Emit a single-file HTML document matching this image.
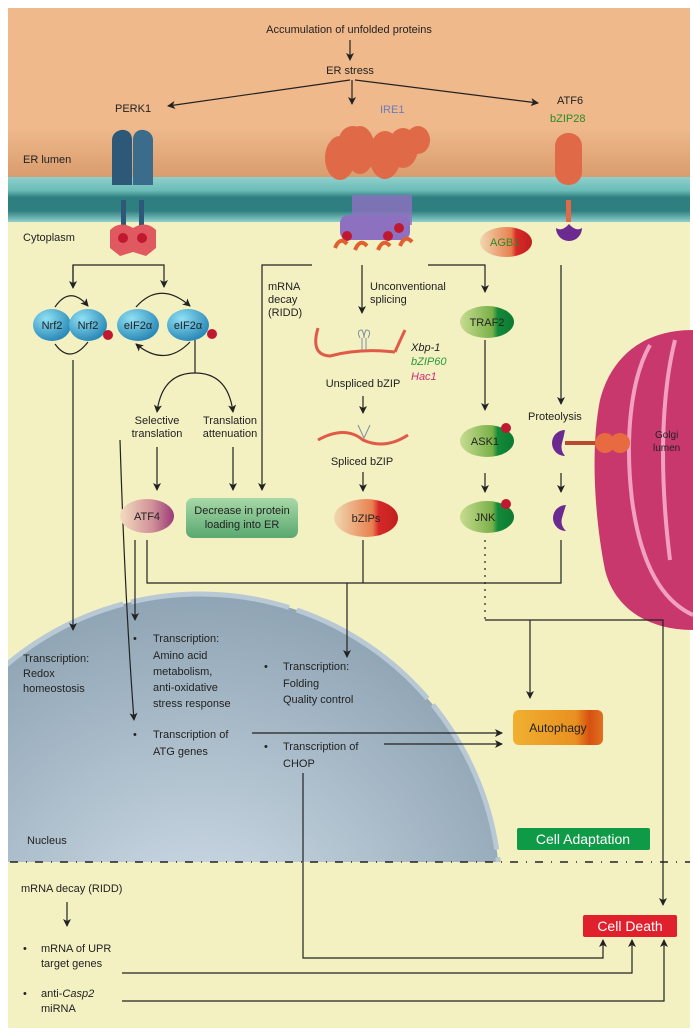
<!DOCTYPE html>
<html><head><meta charset="utf-8"><style>
html,body{margin:0;padding:0;background:#fff;width:693px;height:1033px;overflow:hidden}
svg{display:block}
text{font-family:"Liberation Sans",sans-serif;font-size:11px;fill:#222}
</style></head><body>
<svg width="693" height="1033" viewBox="0 0 693 1033" xmlns="http://www.w3.org/2000/svg">
<defs>
<linearGradient id="orng" x1="0" y1="0" x2="0" y2="1">
<stop offset="0" stop-color="#f0b98c"/><stop offset="0.7" stop-color="#efb98b"/><stop offset="1" stop-color="#d79a6c"/></linearGradient>
<linearGradient id="memb" x1="0" y1="0" x2="0" y2="1">
<stop offset="0" stop-color="#8fd0cc"/><stop offset="0.3" stop-color="#6bbcb8"/><stop offset="0.45" stop-color="#2f7f80"/><stop offset="0.75" stop-color="#2f7f80"/><stop offset="1" stop-color="#8fd0cc"/></linearGradient>
<radialGradient id="nuc" cx="0.5" cy="0.6" r="0.6">
<stop offset="0" stop-color="#d5e2ec"/><stop offset="1" stop-color="#8fa4b4"/></radialGradient>
<radialGradient id="blue" cx="0.35" cy="0.3" r="0.8">
<stop offset="0" stop-color="#8fe0f4"/><stop offset="1" stop-color="#1f7fb0"/></radialGradient>
<linearGradient id="grn" x1="0" y1="0" x2="1" y2="0">
<stop offset="0" stop-color="#c8dc90"/><stop offset="0.6" stop-color="#7ab048"/><stop offset="0.7" stop-color="#138a3a"/><stop offset="1" stop-color="#0d7a30"/></linearGradient>
<linearGradient id="bz" x1="0" y1="0" x2="1" y2="0">
<stop offset="0" stop-color="#f0d8b0"/><stop offset="0.6" stop-color="#e88050"/><stop offset="0.7" stop-color="#d82828"/><stop offset="1" stop-color="#c02020"/></linearGradient>
<linearGradient id="atf4" x1="0" y1="0" x2="1" y2="0">
<stop offset="0" stop-color="#f4dcc0"/><stop offset="0.6" stop-color="#d09098"/><stop offset="1" stop-color="#9a3a78"/></linearGradient>
<linearGradient id="auto" x1="0" y1="0" x2="1" y2="0">
<stop offset="0" stop-color="#f0b030"/><stop offset="0.7" stop-color="#e89020"/><stop offset="0.85" stop-color="#d85010"/><stop offset="1" stop-color="#e07020"/></linearGradient>
<linearGradient id="dec" x1="0" y1="0" x2="0" y2="1">
<stop offset="0" stop-color="#a8d8a8"/><stop offset="1" stop-color="#5aa870"/></linearGradient>
<marker id="a" markerWidth="8" markerHeight="8" refX="7" refY="4" orient="auto" markerUnits="userSpaceOnUse">
<path d="M0,0 L8,4 L0,8 L2,4z" fill="#222"/></marker>
</defs>
<rect width="693" height="1033" fill="#fff"/>
<rect x="8" y="8" width="682" height="1020" fill="#f3f0c2"/>
<rect x="8" y="8" width="682" height="172" fill="url(#orng)"/>
<rect x="8" y="177" width="682" height="45" fill="url(#memb)"/>
<!-- golgi -->
<path d="M693,330 C640,330 610,360 600,400 C590,450 595,520 605,570 C615,610 650,630 693,630 Z" fill="#c8386c"/>
<path d="M650,345 C630,380 625,440 632,500 C640,560 660,600 693,615" stroke="#f2a0c0" stroke-width="4" fill="none"/>
<path d="M675,340 C660,400 660,480 670,560" stroke="#f2a0c0" stroke-width="4" fill="none"/>
<!-- nucleus -->
<clipPath id="nc"><rect x="8" y="560" width="682" height="302"/></clipPath>
<g clip-path="url(#nc)">
<circle cx="200" cy="894" r="300" fill="url(#nuc)"/>
<circle cx="200" cy="894" r="300" fill="none" stroke="#b8c8d4" stroke-width="5" stroke-dasharray="160 8"/>
</g>
<!-- PERK -->
<path d="M112,185 L112,140 C112,128 132,125 132,140 L132,185Z" fill="#2e5878"/>
<path d="M133,185 L133,140 C133,125 153,128 153,140 L153,185Z" fill="#3c6c8c"/>
<rect x="121" y="200" width="5" height="28" fill="#2e5878"/><rect x="139" y="200" width="5" height="28" fill="#2e5878"/>
<path d="M110,230 Q120,220 133,228 Q146,220 156,230 L156,248 L146,256 L133,252 L120,256 L110,248Z" fill="#e05860"/>
<circle cx="123" cy="238" r="5" fill="#c01830"/><circle cx="142" cy="238" r="5" fill="#c01830"/>
<!-- IRE1 -->
<g fill="#e06a48">
<ellipse cx="340" cy="158" rx="15" ry="22"/><ellipse cx="360" cy="150" rx="15" ry="24"/><ellipse cx="353" cy="140" rx="14" ry="14"/>
<ellipse cx="385" cy="155" rx="16" ry="24"/><ellipse cx="403" cy="148" rx="15" ry="20"/><ellipse cx="418" cy="140" rx="12" ry="14"/></g>
<rect x="352" y="195" width="60" height="30" fill="#8e70c0" opacity="0.8"/>
<rect x="340" y="215" width="70" height="25" rx="8" fill="#8e70c0"/>
<circle cx="347" cy="236" r="5" fill="#c01830"/><circle cx="388" cy="236" r="5" fill="#c01830"/><circle cx="399" cy="228" r="5" fill="#c01830"/>
<path d="M335,248 q5,-12 12,-4 M355,250 q5,-12 12,-4 M378,250 q5,-12 12,-4 M400,246 q5,-12 12,-4" stroke="#e06030" stroke-width="4" fill="none"/>
<!-- ATF6 -->
<rect x="555" y="133" width="27" height="52" rx="13" fill="#e06a48"/>
<rect x="566" y="200" width="5" height="22" fill="#e06a48"/>
<path d="M556,228 a13,13 0 0 0 26,0 q-6,4 -13,-4 q-7,8 -13,4z" fill="#6a2a90"/>
<ellipse cx="506" cy="242" rx="26" ry="15" fill="url(#bz)"/>
<text x="490" y="246" style="fill:#2a8a2a">AGB1</text>
<!-- top text -->
<text x="349" y="33" text-anchor="middle">Accumulation of unfolded proteins</text>
<text x="350" y="74" text-anchor="middle">ER stress</text>
<g stroke="#222" stroke-width="1.2" fill="none">
<line x1="350" y1="40" x2="350" y2="60" marker-end="url(#a)"/>
<line x1="350" y1="80" x2="168" y2="106" marker-end="url(#a)"/>
<line x1="352" y1="80" x2="352" y2="104" marker-end="url(#a)"/>
<line x1="355" y1="80" x2="538" y2="103" marker-end="url(#a)"/>
</g>
<text x="115" y="112">PERK1</text>
<text x="380" y="113" style="fill:#6a7cc0">IRE1</text>
<text x="557" y="104">ATF6</text>
<text x="550" y="122" style="fill:#2a8a2a">bZIP28</text>
<text x="23" y="163">ER lumen</text>
<text x="23" y="241">Cytoplasm</text>
<!-- connectors -->
<g stroke="#222" stroke-width="1.2" fill="none">
<polyline points="73,287 73,265 164,265 164,287" marker-end="url(#a)"/>
<line x1="73" y1="265" x2="73" y2="288" marker-end="url(#a)"/>
<path d="M55,307 Q70,285 88,306" marker-end="url(#a)"/>
<path d="M88,342 Q70,365 55,344"/>
<path d="M136,307 Q160,280 190,306" marker-end="url(#a)"/>
<path d="M190,342 Q165,368 136,344" marker-end="url(#a)"/>
<line x1="73" y1="360" x2="73" y2="630" marker-end="url(#a)"/>
<polyline points="195,340 195,373"/>
<path d="M195,373 Q162,373 157,412" marker-end="url(#a)"/>
<path d="M195,373 Q228,373 233,412" marker-end="url(#a)"/>
<line x1="157" y1="447" x2="157" y2="490" marker-end="url(#a)"/>
<line x1="233" y1="447" x2="233" y2="490" marker-end="url(#a)"/>
<path d="M120,440 Q125,600 134,720" marker-end="url(#a)"/>
<polyline points="312,265 262,265 262,490" marker-end="url(#a)"/>
<line x1="362" y1="265" x2="362" y2="313" marker-end="url(#a)"/>
<polyline points="428,265 485,265 485,292" marker-end="url(#a)"/>
<line x1="485" y1="340" x2="485" y2="410" marker-end="url(#a)"/>
<line x1="485" y1="473" x2="485" y2="492" marker-end="url(#a)"/>
<line x1="561" y1="265" x2="561" y2="404" marker-end="url(#a)"/>
<line x1="561" y1="473" x2="561" y2="492" marker-end="url(#a)"/>
<line x1="363" y1="396" x2="363" y2="413" marker-end="url(#a)"/>
<line x1="363" y1="472" x2="363" y2="491" marker-end="url(#a)"/>
<line x1="135" y1="540" x2="135" y2="620" marker-end="url(#a)"/>
<polyline points="147,540 147,583 561,583 561,540"/>
<line x1="363" y1="540" x2="363" y2="583"/>
<line x1="347" y1="583" x2="347" y2="657" marker-end="url(#a)"/>
<line x1="485" y1="540" x2="485" y2="620" stroke-dasharray="2 5"/>
<polyline points="485,620 663,620 663,905" marker-end="url(#a)"/>
<line x1="530" y1="620" x2="530" y2="698" marker-end="url(#a)"/>
<line x1="252" y1="733" x2="502" y2="733" marker-end="url(#a)"/>
<line x1="384" y1="744" x2="502" y2="744" marker-end="url(#a)"/>
<polyline points="303,773 303,958 603,958 603,940" marker-end="url(#a)"/>
<polyline points="122,973 632,973 632,940" marker-end="url(#a)"/>
<polyline points="122,1001 664,1001 664,940" marker-end="url(#a)"/>
<line x1="67" y1="902" x2="67" y2="926" marker-end="url(#a)"/>
</g>
<line x1="10" y1="862" x2="690" y2="862" stroke="#222" stroke-width="1.5" stroke-dasharray="8 8 1 8"/>
<!-- Nrf2/eIF2 -->
<ellipse cx="52" cy="325" rx="19" ry="16" fill="url(#blue)"/>
<ellipse cx="88" cy="325" rx="19" ry="16" fill="url(#blue)"/>
<ellipse cx="138" cy="325" rx="21" ry="16" fill="url(#blue)"/>
<ellipse cx="188" cy="325" rx="21" ry="16" fill="url(#blue)"/>
<circle cx="108" cy="335" r="5" fill="#c01830"/><circle cx="212" cy="334" r="5" fill="#c01830"/>
<text x="52" y="329" text-anchor="middle">Nrf2</text>
<text x="88" y="329" text-anchor="middle">Nrf2</text>
<text x="138" y="329" text-anchor="middle">eIF2α</text>
<text x="188" y="329" text-anchor="middle">eIF2α</text>
<text x="268" y="290">mRNA</text><text x="268" y="303">decay</text><text x="268" y="316">(RIDD)</text>
<text x="370" y="290">Unconventional</text><text x="370" y="303">splicing</text>
<!-- TRAF2 etc -->
<ellipse cx="487" cy="322" rx="27" ry="16" fill="url(#grn)"/><text x="487" y="326" text-anchor="middle">TRAF2</text>
<ellipse cx="487" cy="441" rx="27" ry="16" fill="url(#grn)"/><text x="485" y="445" text-anchor="middle">ASK1</text>
<ellipse cx="487" cy="517" rx="27" ry="16" fill="url(#grn)"/><text x="485" y="521" text-anchor="middle">JNK</text>
<circle cx="506" cy="428" r="5" fill="#c01830"/><circle cx="506" cy="504" r="5" fill="#c01830"/>
<text x="528" y="420">Proteolysis</text>
<path d="M565,430 a13,13 0 1 0 0,26 q-5,-6 -3,-13 q2,-7 3,-13z" fill="#6a2a90"/>
<line x1="565" y1="443" x2="600" y2="443" stroke="#b84a30" stroke-width="4"/>
<circle cx="605" cy="443" r="10" fill="#e86a40"/><circle cx="620" cy="443" r="10" fill="#e86a40"/>
<text x="655" y="438" style="font-size:10px">Golgi</text><text x="653" y="451" style="font-size:10px">lumen</text>
<path d="M566,505 a13,13 0 1 0 0,26 q-6,-6 -4,-13 q2,-7 4,-13z" fill="#6a2a90"/>
<!-- bZIP mRNA -->
<path d="M318,328 Q310,355 330,356 Q360,348 395,352" stroke="#e05a48" stroke-width="3" fill="none"/>
<path d="M362,350 L362,338 M366,350 L366,338 M360,338 q-4,-8 2,-8 q2,4 2,8 q0,-4 2,-8 q6,0 2,8" stroke="#8090a0" stroke-width="1" fill="none"/>
<path d="M405,330 Q398,345 395,352" stroke="#e05a48" stroke-width="3" fill="none"/>
<text x="411" y="351" style="font-style:italic">Xbp-1</text>
<text x="411" y="365" style="font-style:italic;fill:#2a9a3a">bZIP60</text>
<text x="411" y="380" style="font-style:italic;fill:#d0287a">Hac1</text>
<text x="363" y="387" text-anchor="middle">Unspliced bZIP</text>
<path d="M318,440 Q345,425 363,440 Q385,450 408,435" stroke="#e05a48" stroke-width="3" fill="none"/>
<path d="M358,425 L364,438 L370,425" stroke="#8090a0" fill="none"/>
<text x="362" y="465" text-anchor="middle">Spliced bZIP</text>
<ellipse cx="366" cy="518" rx="32" ry="19" fill="url(#bz)"/><text x="366" y="522" text-anchor="middle">bZIPs</text>
<text x="157" y="424" text-anchor="middle">Selective</text><text x="157" y="437" text-anchor="middle">translation</text>
<text x="230" y="424" text-anchor="middle">Translation</text><text x="230" y="437" text-anchor="middle">attenuation</text>
<ellipse cx="147" cy="516" rx="27" ry="17" fill="url(#atf4)"/><text x="147" y="520" text-anchor="middle">ATF4</text>
<rect x="186" y="498" width="112" height="40" rx="7" fill="url(#dec)"/>
<text x="242" y="514" text-anchor="middle">Decrease in protein</text><text x="242" y="528" text-anchor="middle">loading into ER</text>
<!-- nucleus text -->
<g style="font-size:12px">
<text x="23" y="662">Transcription:</text><text x="23" y="677">Redox</text><text x="23" y="692">homeostosis</text>
<text x="133" y="642">•</text><text x="153" y="642">Transcription:</text><text x="153" y="659">Amino acid</text><text x="153" y="675">metabolism,</text><text x="153" y="691">anti-oxidative</text><text x="153" y="707">stress response</text>
<text x="264" y="670">•</text><text x="283" y="670">Transcription:</text><text x="283" y="687">Folding</text><text x="283" y="703">Quality control</text>
<text x="133" y="738">•</text><text x="153" y="738">Transcription of</text><text x="153" y="755">ATG genes</text>
<text x="264" y="750">•</text><text x="283" y="750">Transcription of</text><text x="283" y="767">CHOP</text>
<text x="21" y="892">mRNA decay (RIDD)</text>
<text x="23" y="952">•</text><text x="41" y="952">mRNA of UPR</text><text x="41" y="967">target genes</text>
<text x="23" y="997">•</text><text x="41" y="997">anti-<tspan style="font-style:italic">Casp2</tspan></text><text x="41" y="1012">miRNA</text>
</g>
<text x="27" y="844">Nucleus</text>
<rect x="513" y="710" width="90" height="35" rx="6" fill="url(#auto)"/>
<text x="558" y="732" text-anchor="middle" style="font-size:12px">Autophagy</text>
<rect x="517" y="828" width="133" height="22" rx="2" fill="#0f9a48"/>
<text x="583" y="844" text-anchor="middle" style="font-size:14px;fill:#fff">Cell Adaptation</text>
<rect x="583" y="915" width="94" height="22" rx="2" fill="#e0202c"/>
<text x="630" y="931" text-anchor="middle" style="font-size:14px;fill:#fff">Cell Death</text>
</svg>
</body></html>
